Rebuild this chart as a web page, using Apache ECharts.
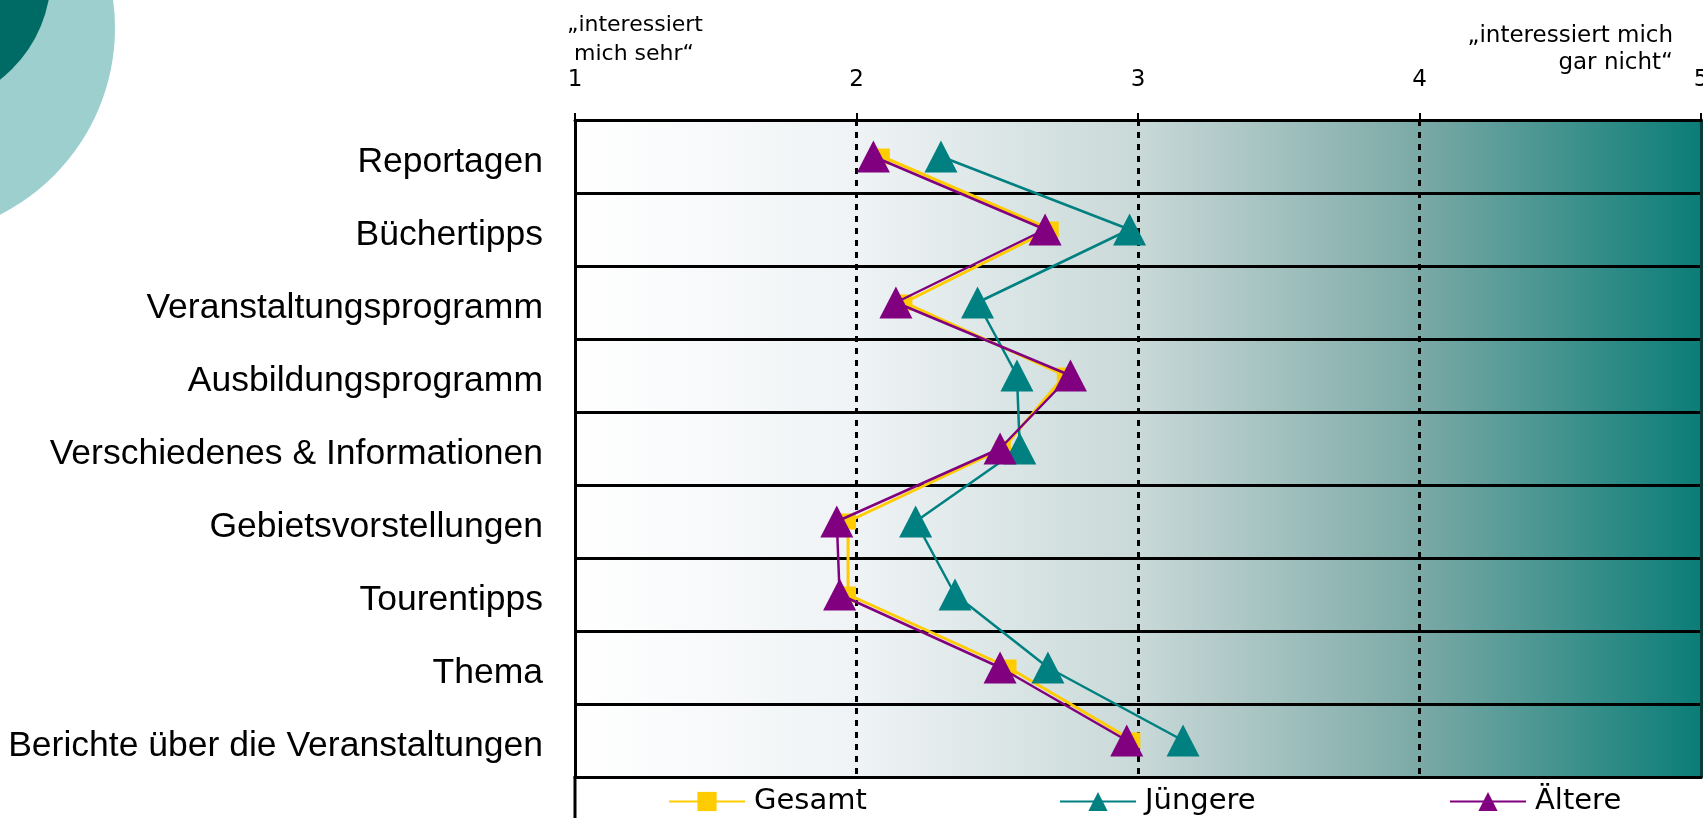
<!DOCTYPE html>
<html>
<head>
<meta charset="utf-8">
<script src="https://cdn.jsdelivr.net/npm/echarts@6/dist/echarts.min.js"></script>
<style>
html,body{margin:0;padding:0;background:#fff;}
#chart{width:1703px;height:818px;}
</style>
</head>
<body>
<div id="chart"></div>
<script>
const categories = ['Reportagen','Büchertipps','Veranstaltungsprogramm','Ausbildungsprogramm','Verschiedenes & Informationen','Gebietsvorstellungen','Tourentipps','Thema','Berichte über die Veranstaltungen'];
const gesamt   = [2.09, 2.69, 2.17, 2.74, 2.52, 1.97, 1.97, 2.54, 2.98];
const juengere = [2.30, 2.97, 2.43, 2.57, 2.58, 2.21, 2.35, 2.68, 3.16];
const aeltere  = [2.06, 2.67, 2.14, 2.76, 2.51, 1.93, 1.94, 2.51, 2.96];
const seriesNames = ['Gesamt','Jüngere','Ältere'];
const scaleMin = 1, scaleMax = 5, scaleStep = 1;
const noteLeft = '„interessiert\n mich sehr“';
const noteRight = '„interessiert mich\ngar nicht“';

const pairs = arr => arr.map((v, i) => [v, categories[i]]);

const legendBase = {
  top: 782, itemWidth: 76, itemHeight: 24,
  textStyle: {color: '#000', fontFamily: 'DejaVu Sans', fontSize: 29, padding: [0, 0, 0, 4]}
};

const chart = echarts.init(document.getElementById('chart'));
const option = {
  animation: false,
  backgroundColor: '#ffffff',
  grid: {
    left: 575, right: 2, top: 120, bottom: 41,
    outerBoundsMode: 'none', containLabel: false,
    show: true, borderWidth: 0,
    backgroundColor: {
      type: 'linear', x: 0, y: 0, x2: 1, y2: 0,
      colorStops: [
        {offset: 0, color: '#ffffff'},
        {offset: 0.25, color: '#eff3f5'},
        {offset: 0.5, color: '#c9d9d8'},
        {offset: 0.75, color: '#7ba9a6'},
        {offset: 1, color: '#0b7d77'}
      ]
    }
  },
  xAxis: [{
    type: 'value', position: 'top', min: scaleMin, max: scaleMax, interval: scaleStep,
    axisLine: {show: true, lineStyle: {color: '#000', width: 3}},
    axisTick: {show: true, length: 7, lineStyle: {color: '#000', width: 2}},
    axisLabel: {color: '#000', fontFamily: 'DejaVu Sans', fontSize: 23, margin: 28, showMaxLabel: true, showMinLabel: true},
    splitLine: {show: true, lineStyle: {color: '#000', width: 3, type: [6, 6]}}
  }, {
    type: 'value', position: 'bottom', min: scaleMin, max: scaleMax, interval: scaleStep,
    axisLine: {show: true, onZero: false, lineStyle: {color: '#000', width: 3}},
    axisTick: {show: false}, axisLabel: {show: false}, splitLine: {show: false}
  }],
  yAxis: [{
    type: 'category', data: categories, inverse: true,
    axisLine: {show: true, lineStyle: {color: '#000', width: 3}},
    axisTick: {show: false},
    axisLabel: {color: '#000', fontFamily: 'Liberation Sans', fontSize: 35.5, margin: 32, verticalAlign: 'top', lineHeight: 11},
    splitLine: {show: true, lineStyle: {color: '#000', width: 3}}
  }, {
    type: 'category', data: categories, inverse: true, position: 'right',
    axisLine: {show: true, onZero: false, lineStyle: {color: '#0a3f3c', width: 3}},
    axisTick: {show: false}, axisLabel: {show: false}, splitLine: {show: false}
  }],
  legend: [
    Object.assign({data: [seriesNames[0]], left: 663}, legendBase),
    Object.assign({data: [seriesNames[1]], left: 1054}, legendBase),
    Object.assign({data: [seriesNames[2]], left: 1444}, legendBase)
  ],
  graphic: [
    {type: 'circle', z: -10, shape: {cx: -94, cy: 28, r: 209}, style: {fill: '#9dcfcf'}},
    {type: 'circle', z: -9, shape: {cx: -82, cy: -25, r: 133}, style: {fill: '#006a64'}},
    {type: 'line', z: 10, shape: {x1: 575, y1: 776, x2: 575, y2: 818}, style: {stroke: '#000', lineWidth: 3}},
    {type: 'text', left: 567, top: 11, style: {text: noteLeft, font: '22px "DejaVu Sans"', fill: '#000', lineHeight: 29}},
    {type: 'text', right: 30, top: 23, style: {text: noteRight, font: '23px "DejaVu Sans"', fill: '#000', lineHeight: 27, textAlign: 'right'}}
  ],
  series: [
    {name: seriesNames[0], type: 'line', xAxisIndex: 0, yAxisIndex: 0, data: pairs(gesamt),
     symbol: 'rect', symbolSize: 16, z: 2,
     lineStyle: {color: '#ffcc00', width: 3}, itemStyle: {color: '#ffcc00'}},
    {name: seriesNames[1], type: 'line', xAxisIndex: 0, yAxisIndex: 0, data: pairs(juengere),
     symbol: 'triangle', symbolSize: [33, 32], z: 3,
     lineStyle: {color: '#008080', width: 2.5}, itemStyle: {color: '#008080'}},
    {name: seriesNames[2], type: 'line', xAxisIndex: 0, yAxisIndex: 0, data: pairs(aeltere),
     symbol: 'triangle', symbolSize: [33, 32], z: 4,
     lineStyle: {color: '#800080', width: 2.5}, itemStyle: {color: '#800080'}}
  ]
};
chart.setOption(option);
</script>
</body>
</html>
